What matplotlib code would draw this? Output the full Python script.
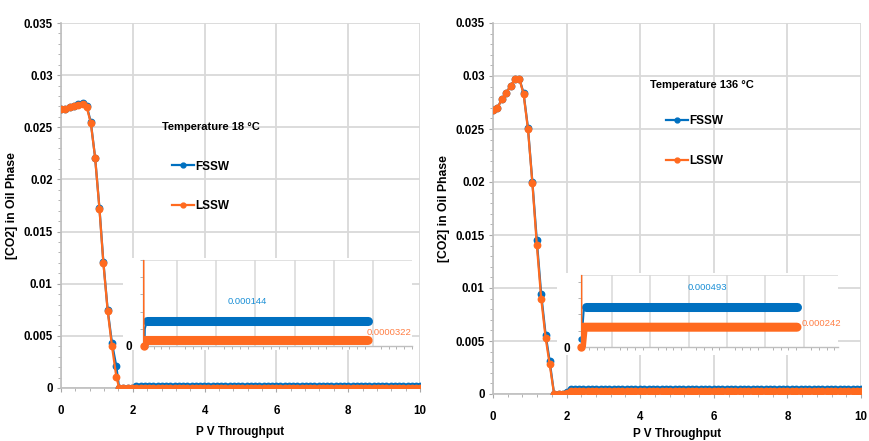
import numpy as np
import matplotlib
matplotlib.use('Agg')
import matplotlib.pyplot as plt
from matplotlib.patches import Rectangle
from matplotlib.ticker import MultipleLocator

plt.rcParams['font.family'] = ['Liberation Sans Narrow', 'Liberation Sans', 'DejaVu Sans']

BLUE = '#0070C0'
ORANGE = '#FF6A1F'
GRID = '#d9d9d9'

# ---- Temperature 18 °C (left) ----
pv_18_head = [0.0, 0.12, 0.24, 0.36, 0.48, 0.60, 0.72, 0.83, 0.95, 1.07, 1.18, 1.30, 1.42,
              1.54, 1.62, 1.74, 1.86, 1.98, 2.10]
fssw_18_head = [0.0268, 0.0268, 0.0269, 0.0270, 0.0272, 0.0273, 0.0270, 0.0255, 0.0221, 0.0173,
                0.0121, 0.0075, 0.0043, 0.0021, 0.0, 0.0, 0.0, 0.0, 0.000144]
lssw_18_head = [0.0268, 0.0268, 0.0269, 0.0270, 0.0271, 0.0272, 0.0269, 0.0254, 0.0221, 0.0172,
                0.0120, 0.0074, 0.0040, 0.0011, 0.0, 0.0000322, 0.0000322, 0.0000322, 0.0000322]
fssw_18_end = 0.000144
lssw_18_end = 0.0000322

# ---- Temperature 136 °C (right) ----
pv_136_head = [0.0, 0.12, 0.24, 0.36, 0.48, 0.60, 0.72, 0.83, 0.95, 1.07, 1.19, 1.31, 1.43,
               1.54, 1.66, 1.78, 1.90, 2.01, 2.13]
fssw_136_head = [0.0268, 0.0270, 0.0278, 0.0284, 0.0291, 0.0297, 0.0297, 0.0284, 0.0251, 0.0200,
                 0.0145, 0.0094, 0.0056, 0.0031, 0.0, 0.00002, 0.00003, 0.0002, 0.000493]
lssw_136_head = [0.0268, 0.0270, 0.0278, 0.0284, 0.0291, 0.0297, 0.0297, 0.0283, 0.0250, 0.0199,
                 0.0141, 0.0090, 0.0053, 0.0028, 0.0, 0.0, 0.0, 0.00005, 0.000242]
fssw_136_end = 0.000493
lssw_136_end = 0.000242

# plateau sampled at the same PV step as the simulation output
pv_tail = np.arange(2.22, 10.01, 0.118)

# ---- zoomed insets (own x scale) ----
ins18_fssw_x = [1.7, 1.75, 2.3, 58.8]
ins18_fssw_y = [0.0, 0.0001, 0.000144, 0.000144]
ins18_lssw_x = [1.35, 1.45, 1.9, 58.8]
ins18_lssw_y = [0.0011, 0.0, 0.0000322, 0.0000322]

ins136_fssw_x = [1.9, 2.3, 2.6, 3.2, 58.3]
ins136_fssw_y = [0.0001, 0.00025, 0.00045, 0.000493, 0.000493]
ins136_lssw_x = [1.95, 2.0, 2.5, 58.3]
ins136_lssw_y = [0.0028, 0.0, 0.000242, 0.000242]


def px(fig_w, fig_h, x0, y0, x1, y1):
    # pixel box (top-left origin) -> figure fraction rect
    return [x0 / fig_w, (fig_h - y1) / fig_h, (x1 - x0) / fig_w, (y1 - y0) / fig_h]


def main_panel(ax, pv, fssw, lssw, temp_txt, temp_pos, leg_pos, xlab_pad):
    ax.plot(pv, fssw, color=BLUE, lw=1.6, marker='o', ms=4.6, zorder=3)
    ax.plot(pv, lssw, color=ORANGE, lw=1.6, marker='o', ms=4.6, zorder=4)
    ax.set_xlim(0, 10)
    ax.set_ylim(0, 0.035)
    ax.xaxis.set_major_locator(MultipleLocator(2))
    ax.xaxis.set_minor_locator(MultipleLocator(0.4))
    ax.yaxis.set_minor_locator(MultipleLocator(0.001))
    ax.set_yticks([0, 0.005, 0.01, 0.015, 0.02, 0.025, 0.03, 0.035])
    ax.set_yticklabels(['0', '0.005', '0.01', '0.015', '0.02', '0.025', '0.03', '0.035'])
    ax.grid(True, which='major', color=GRID, lw=1.3)
    ax.set_axisbelow(True)
    for s in ['top', 'right']:
        ax.spines[s].set_visible(False)
    for s in ['left', 'bottom']:
        ax.spines[s].set_color('#bfbfbf')
        ax.spines[s].set_linewidth(1.2)
    ax.tick_params(which='both', color='#a6a6a6', direction='out')
    ax.tick_params(which='major', length=3)
    ax.tick_params(axis='y', which='major', pad=3)
    ax.tick_params(axis='x', which='major', pad=9)
    ax.tick_params(which='minor', length=2.5)
    for lab in ax.get_xticklabels() + ax.get_yticklabels():
        lab.set_family(['Liberation Sans', 'DejaVu Sans'])
        lab.set_fontweight('bold')
        lab.set_fontsize(8.3)
    ax.set_xlabel('P V Throughput', fontsize=8.5, fontweight='bold', labelpad=xlab_pad)
    ax.set_ylabel('[CO2] in Oil Phase', fontsize=8.8, fontweight='bold',
                  family=['Liberation Sans', 'DejaVu Sans'], labelpad=4)
    ax.text(temp_pos[0], temp_pos[1], temp_txt, transform=ax.transAxes, fontsize=8,
            fontweight='bold', va='center', ha='left')
    ax.plot([], [], color=BLUE, lw=1.6, marker='o', ms=3.5, label='FSSW')
    ax.plot([], [], color=ORANGE, lw=1.6, marker='o', ms=3.5, label='LSSW')
    handles, labels = ax.get_legend_handles_labels()
    ax.legend(handles[-2:], labels[-2:], loc='upper left', bbox_to_anchor=leg_pos,
              frameon=False, prop={'weight': 'bold', 'size': 8.5}, handlelength=1.9,
              handletextpad=0.1, labelspacing=2.35, borderpad=0, borderaxespad=0)


def inset_panel(ax, fx, fy, lx, ly, xlim, ytop, ystep, blue_txt, blue_pos, orange_txt, orange_pos):
    ax.plot(fx, fy, color=BLUE, lw=1.5, zorder=3)
    ax.plot(fx[-2:], fy[-2:], color=BLUE, lw=6.5, solid_capstyle='round', zorder=3)
    ax.plot(lx, ly, color=ORANGE, lw=1.5, zorder=4)
    ax.plot(lx[1:], ly[1:], color=ORANGE, lw=6.5, solid_capstyle='round', zorder=4)
    ax.plot(lx[1], ly[1], 'o', color=ORANGE, ms=5, zorder=5, clip_on=False)
    ax.plot(fx[0], fy[0], 'o', color=BLUE, ms=3.5, zorder=2, clip_on=False)
    ax.set_xlim(*xlim)
    ax.set_ylim(0, ytop)
    ax.set_xticks([10, 20, 30, 40, 50, 60])
    ax.set_xticklabels([])
    ax.xaxis.set_minor_locator(MultipleLocator(2))
    ax.set_yticks([0])
    ax.set_yticklabels(['0'])
    ax.yaxis.set_minor_locator(MultipleLocator(ystep))
    ax.grid(True, axis='x', color=GRID, lw=1.1)
    ax.axhline(ytop, color=GRID, lw=1.1, zorder=0)
    ax.set_axisbelow(True)
    for s in ['top', 'right']:
        ax.spines[s].set_visible(False)
    for s in ['left', 'bottom']:
        ax.spines[s].set_color('#bfbfbf')
        ax.spines[s].set_linewidth(1.0)
    ax.tick_params(which='major', length=0, pad=8)
    ax.tick_params(which='minor', length=2.2, color='#a6a6a6')
    for lab in ax.get_yticklabels():
        lab.set_fontweight('bold')
        lab.set_fontsize(8.5)
    ax.text(blue_pos[0], blue_pos[1], blue_txt, transform=ax.transAxes, color='#1a8fd6',
            fontsize=6.8, ha='center', va='center')
    ax.text(orange_pos[0], orange_pos[1], orange_txt, transform=ax.transAxes, color='#ff7f45',
            fontsize=6.8, ha='left', va='center')


W, H = 869, 441
fig = plt.figure(figsize=(W / 100, H / 100), dpi=100)

# left chart
ax1 = fig.add_axes(px(W, H, 61, 23, 420, 388))
pv1 = list(pv_18_head) + list(pv_tail)
main_panel(ax1, pv1,
           fssw_18_head + [fssw_18_end] * len(pv_tail),
           lssw_18_head + [lssw_18_end] * len(pv_tail),
           'Temperature 18 \u00b0C', (0.281, 0.715), (0.309, 0.623), 7)

# right chart
ax2 = fig.add_axes(px(W, H, 493, 23, 861, 394))
pv2 = list(pv_136_head) + list(pv_tail)
main_panel(ax2, pv2,
           fssw_136_head + [fssw_136_end] * len(pv_tail),
           lssw_136_head + [lssw_136_end] * len(pv_tail),
           'Temperature 136 \u00b0C', (0.426, 0.833), (0.47, 0.752), 4)

# white backing boxes for the insets
for box in [(123, 258, 412, 350), (557, 273, 838, 355)]:
    r = px(W, H, *box)
    fig.add_artist(Rectangle((r[0], r[1]), r[2], r[3], transform=fig.transFigure,
                             facecolor='white', edgecolor='none', zorder=2))

ins1 = fig.add_axes(px(W, H, 143, 260, 412, 346))
ins1.set_zorder(3)
inset_panel(ins1, ins18_fssw_x, ins18_fssw_y, ins18_lssw_x, ins18_lssw_y,
            (1.3, 70.0), 0.0005, 0.0001, '0.000144', (0.387, 0.52), '0.0000322', (0.83, 0.16))

ins2 = fig.add_axes(px(W, H, 581, 275, 838, 347))
ins2.set_zorder(3)
inset_panel(ins2, ins136_fssw_x, ins136_fssw_y, ins136_lssw_x, ins136_lssw_y,
            (1.9, 69.0), 0.00088, 0.0002, '0.000493', (0.49, 0.83), '0.000242', (0.86, 0.32))

plt.savefig('out.png', dpi=100)
